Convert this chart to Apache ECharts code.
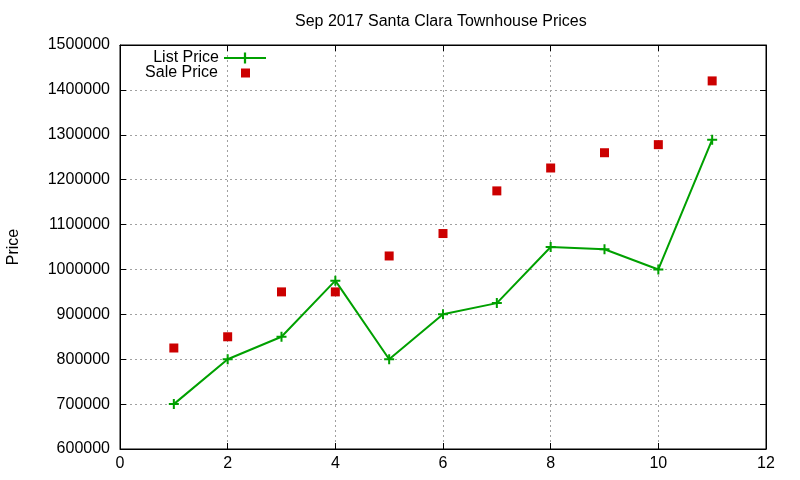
<!DOCTYPE html>
<html>
<head>
<meta charset="utf-8">
<script src="https://cdn.jsdelivr.net/npm/echarts@6/dist/echarts.min.js"></script>
<style>html,body{margin:0;padding:0;background:#fff}#c{width:800px;height:480px}</style>
</head>
<body>
<div id="c"></div>
<script>
const xs = [1, 2, 3, 4, 5, 6, 7, 8, 9, 10, 11];
const listPrice = [700000, 800000, 850000, 975000, 800000, 900000, 925000, 1050000, 1045000, 1000000, 1289000];
const salePrice = [825000, 850000, 950000, 950000, 1030000, 1080000, 1175000, 1226000, 1260000, 1278000, 1420000];
const titleText = 'Sep 2017 Santa Clara Townhouse Prices';
const yName = 'Price';

const FONT = 'Liberation Sans, Arial, sans-serif';
const plus = 'path://M4,0H6V4H10V6H6V10H4V6H0V4H4Z';
const gridLine = {show: true, lineStyle: {color: '#a0a0a0', type: [2, 3], width: 1}};

const chart = echarts.init(document.getElementById('c'), null, {renderer: 'canvas'});
chart.setOption({
  animation: false,
  backgroundColor: '#fff',
  title: {
    text: titleText, left: 295, top: 14, padding: 0,
    textStyle: {fontFamily: FONT, fontSize: 16, fontWeight: 'normal', color: '#000'}
  },
  legend: [
    {
      data: ['List Price'], orient: 'vertical', align: 'right',
      right: 533, top: 50, padding: 0, itemWidth: 42, itemHeight: 14,
      textStyle: {fontFamily: FONT, fontSize: 16, color: '#000'}
    },
    {
      data: [{name: 'Sale Price', icon: 'rect'}], orient: 'vertical', align: 'right',
      right: 550, top: 65, padding: 0, itemWidth: 9, itemHeight: 9,
      textStyle: {fontFamily: FONT, fontSize: 16, color: '#000', padding: [0, 18, 0, 0]}
    }
  ],
  grid: {left: 120, right: 34, top: 45, bottom: 31, show: true, borderColor: '#000', borderWidth: 1,
         containLabel: false, outerBoundsMode: 'none'},
  xAxis: [
    {
      type: 'value', min: 0, max: 12, interval: 2,
      axisLine: {show: true, onZero: false, lineStyle: {color: '#000', width: 1}},
      axisTick: {show: true, inside: true, length: 6, lineStyle: {color: '#000'}},
      axisLabel: {color: '#000', fontFamily: FONT, fontSize: 16, margin: 7},
      splitLine: gridLine
    },
    {
      type: 'value', min: 0, max: 12, interval: 2, position: 'top',
      axisLine: {show: true, onZero: false, lineStyle: {color: '#000', width: 1}},
      axisTick: {show: true, inside: true, length: 6, lineStyle: {color: '#000'}},
      axisLabel: {show: false}, splitLine: {show: false}
    }
  ],
  yAxis: [
    {
      type: 'value', min: 600000, max: 1500000, interval: 100000,
      name: yName, nameLocation: 'middle', nameGap: 98, nameRotate: 90,
      nameTextStyle: {color: '#000', fontFamily: FONT, fontSize: 16},
      axisLine: {show: true, onZero: false, lineStyle: {color: '#000', width: 1}},
      axisTick: {show: true, inside: true, length: 6, lineStyle: {color: '#000'}},
      axisLabel: {color: '#000', fontFamily: FONT, fontSize: 16, margin: 10,
                  formatter: v => String(v)},
      splitLine: gridLine
    },
    {
      type: 'value', min: 600000, max: 1500000, interval: 100000, position: 'right',
      axisLine: {show: true, onZero: false, lineStyle: {color: '#000', width: 1}},
      axisTick: {show: true, inside: true, length: 6, lineStyle: {color: '#000'}},
      axisLabel: {show: false}, splitLine: {show: false}
    }
  ],
  series: [
    {
      name: 'List Price', type: 'line', xAxisIndex: 0, yAxisIndex: 0,
      data: xs.map((x, i) => [x, listPrice[i]]),
      symbol: plus, symbolSize: 10, showAllSymbol: true,
      itemStyle: {color: '#00a000'},
      lineStyle: {color: '#00a000', width: 2}
    },
    {
      name: 'Sale Price', type: 'scatter', xAxisIndex: 0, yAxisIndex: 0,
      data: xs.map((x, i) => [x, salePrice[i]]),
      symbol: 'rect', symbolSize: 9,
      itemStyle: {color: '#cc0000', opacity: 1}
    }
  ]
});
</script>
</body>
</html>
